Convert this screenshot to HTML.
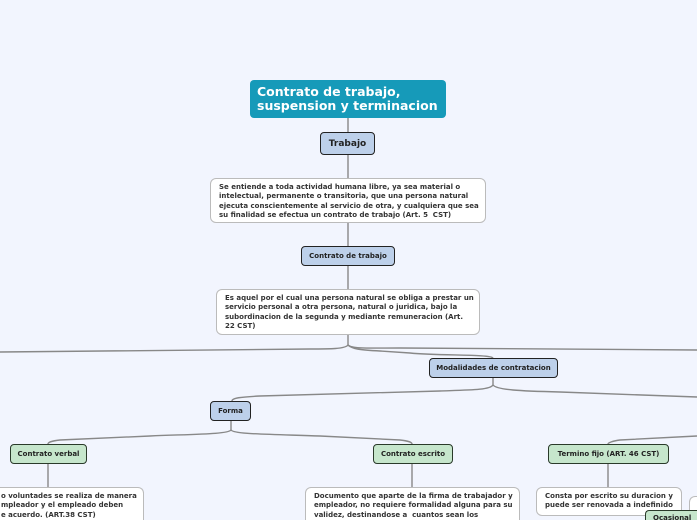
<!DOCTYPE html>
<html><head><meta charset="utf-8"><style>
html{width:697px;height:520px;overflow:hidden}
body{margin:0;width:697px;height:520px;overflow:hidden;background:#f2f5fe;position:relative;font-family:"DejaVu Sans","Liberation Sans",sans-serif;font-weight:bold;color:#222}
.b{position:absolute;box-sizing:border-box;border-radius:4px;display:flex;align-items:center;justify-content:center;white-space:nowrap}
.blue{background:#bdd0ea;border:1.3px solid #222;font-size:7.5px}
.green{background:#c6e6cc;border:1.3px solid #2a3a2a;font-size:7.5px}
.d{position:absolute;box-sizing:border-box;background:#fff;border:1.3px solid #bbb;border-radius:6px;font-size:7px;line-height:9.3px;padding:4px 8px;white-space:nowrap;color:#333;overflow:hidden}
svg{position:absolute;left:0;top:0}
</style></head><body>
<svg width="697" height="520" fill="none" stroke="#888" stroke-width="1.4">
<path d="M348 118V132M348 155V178M348 223V246M348 266V289M348 335V345"/>
<path d="M348 345C345 349 330 349 310 349L0 352"/>
<path d="M348 345C352 349 370 348 400 348L697 350"/>
<path d="M348 345C352 349 360 350 380 351L410 353C440 356 490 354 493 358"/>
<path d="M493 378V385"/>
<path d="M493 385C490 390 470 390 440 391L260 396C240 397 232 398 232 401"/>
<path d="M493 385C497 390 520 391 560 392L697 397"/>
<path d="M231 421V430"/>
<path d="M231 430C228 434 200 434 150 436L60 440C50 441 48 443 48 444"/>
<path d="M231 430C234 434 260 434 320 436L400 440C410 441 412 443 412 444"/>
<path d="M697 436L620 440C612 441 608 443 608 444"/>
<path d="M48 463V487M412 463V487M608 463V487"/>
</svg>
<div class="b" style="left:250px;top:80px;width:196px;height:38px;background:#169ab9;border-radius:4px;color:#fff;font-size:12.5px;line-height:14px;justify-content:flex-start;padding-left:7px;white-space:normal">Contrato de trabajo, suspension y terminacion</div>
<div class="b blue" style="left:320px;top:132px;width:55px;height:23px;font-size:9px">Trabajo</div>
<div class="d" style="left:210px;top:178px;width:276px;height:45px">Se entiende a toda actividad humana libre, ya sea material o<br>intelectual, permanente o transitoria, que una persona natural<br>ejecuta conscientemente al servicio de otra, y cualquiera que sea<br>su finalidad se efectua un contrato de trabajo (Art. 5&nbsp; CST)</div>
<div class="b blue" style="left:301px;top:246px;width:94px;height:20px;font-size:7px">Contrato de trabajo</div>
<div class="d" style="left:216px;top:289px;width:264px;height:46px">Es aquel por el cual una persona natural se obliga a prestar un<br>servicio personal a otra persona, natural o juridica, bajo la<br>subordinacion de la segunda y mediante remuneracion (Art.<br>22 CST)</div>
<div class="b blue" style="left:429px;top:358px;width:129px;height:20px;font-size:7px">Modalidades de contratacion</div>
<div class="b blue" style="left:210px;top:401px;width:41px;height:20px;font-size:7px">Forma</div>
<div class="b green" style="left:10px;top:444px;width:77px;height:20px;font-size:7px">Contrato verbal</div>
<div class="b green" style="left:373px;top:444px;width:80px;height:20px;font-size:7px">Contrato escrito</div>
<div class="b green" style="left:548px;top:444px;width:121px;height:20px;font-size:7px">Termino fijo (ART. 46 CST)</div>
<div class="d" style="left:-40px;top:487px;width:184px;height:33px;padding-left:40px;border-bottom:none;border-radius:6px 6px 0 0">o voluntades se realiza de manera<br>mpleador y el empleado deben<br>e acuerdo. (ART.38 CST)</div>
<div class="d" style="left:305px;top:487px;width:215px;height:33px;border-bottom:none;border-radius:6px 6px 0 0">Documento que aparte de la firma de trabajador y<br>empleador, no requiere formalidad alguna para su<br>validez, destinandose a&nbsp; cuantos sean los</div>
<div class="d" style="left:536px;top:487px;width:146px;height:29px">Consta por escrito su duracion y<br>puede ser renovada a indefinido</div>
<div class="d" style="left:689px;top:496px;width:8px;height:24px;border-right:none;border-bottom:none;border-radius:6px 0 0 0"></div>
<div class="b green" style="left:645px;top:510px;width:52px;height:10px;font-size:7px;justify-content:flex-start;padding-left:7px;align-items:flex-start;padding-top:3px;border-right:none;border-bottom:none;border-radius:4px 0 0 0;overflow:hidden">Ocasional</div>
</body></html>
